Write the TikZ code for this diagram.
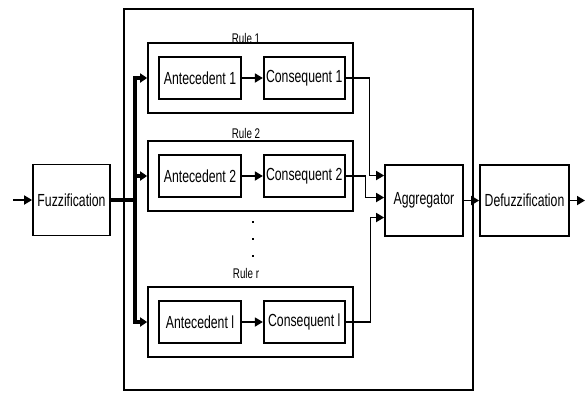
\documentclass[tikz,border=0pt]{standalone}
\usepackage{fontspec}
\newfontfamily\blockfont{Liberation Sans}[FakeStretch=0.7]
\usetikzlibrary{arrows.meta,positioning,calc}
\tikzset{
  every picture/.style={line width=1.7pt, line join=miter, font=\blockfont\fontsize{17.5}{19}\selectfont},
  block/.style={draw, fill=white, inner sep=0pt, minimum height=42pt, align=center},
  unit/.style={block, minimum width=82pt},
  rulebox/.style={draw, inner sep=0pt, minimum width=205pt, minimum height=70pt},
  stage/.style={block, minimum height=71pt},
  tag/.style={font=\blockfont\fontsize{14}{16}\selectfont, inner sep=0pt},
  speck/.style={fill, inner sep=0pt, minimum size=2.6pt},
  flow/.style={-{Triangle[length=8pt,width=9pt]}},
  bus/.style={line width=3.6pt},
  busflow/.style={bus, -{Triangle[length=7pt,width=9pt]}},
}

\begin{document}
\begin{tikzpicture}[x=1pt, y=-1pt]
  \useasboundingbox (0,0) rectangle (586,392);
  % outer frame around the rule base
  \draw (124,9) rectangle (473,390);
  % stages
  \node[stage, minimum width=77pt] (F) at (71.5,200) {Fuzzification};
  \node[stage, minimum width=78pt] (Ag) at (424,200.5) {Aggregator};
  \node[stage, minimum width=89pt] (D) at (524.5,200.5) {Defuzzification};
  % rules
  \node[rulebox] (R1) at (250.5,78) {};
  \node[rulebox] (R2) at (250.5,176) {};
  \node[rulebox] (Rr) at (250.5,322) {};
  \node[tag] at (246,38) {Rule 1};
  \node[tag] at (246,133) {Rule 2};
  \node[tag] at (246,273) {Rule r};
  \node[unit, right=11pt of R1.west, anchor=west] (A1) {Antecedent 1};
  \node[unit, right=21pt of A1, minimum width=81pt] (C1) {Consequent 1};
  \node[unit, right=11pt of R2.west, anchor=west] (A2) {Antecedent 2};
  \node[unit, right=21pt of A2, minimum width=81pt] (C2) {Consequent 2};
  \node[unit, right=11pt of Rr.west, anchor=west] (Ar) {Antecedent l};
  \node[unit, right=21pt of Ar, minimum width=81pt] (Cr) {Consequent l};
  \node[speck] (d1) at (253,222) {};
  \node[speck] (d2) at (253,239) {};
  \node[speck] (d3) at (253,256) {};
  % input bus
  \coordinate (in) at (13,200);
  \coordinate (bus) at (135,200);
  \coordinate (out) at (585,200.5);
  \draw[flow] (in) -- (F.west);
  \draw[busflow] (F.east) -- (bus) |- (R1.west);
  \draw[busflow] (bus) |- (R2.west);
  \draw[busflow] (bus) |- (Rr.west);
  % inside the rules
  \draw[flow] (A1) -- (C1);
  \draw[flow] (A2) -- (C2);
  \draw[flow] (Ar) -- (Cr);
  % to the aggregator
  \draw[flow] (C1.east) -- ++(24,0) |- ([yshift=25pt]Ag.west);
  \draw[flow] (C2.east) -- ++(20,0) |- ([yshift=3pt]Ag.west);
  \draw[flow] (Cr.east) -- ++(25,0) |- ([yshift=-17pt]Ag.west);
  \draw[flow] (Ag) -- (D);
  \draw[flow] (D) -- (out);
\end{tikzpicture}
\end{document}
